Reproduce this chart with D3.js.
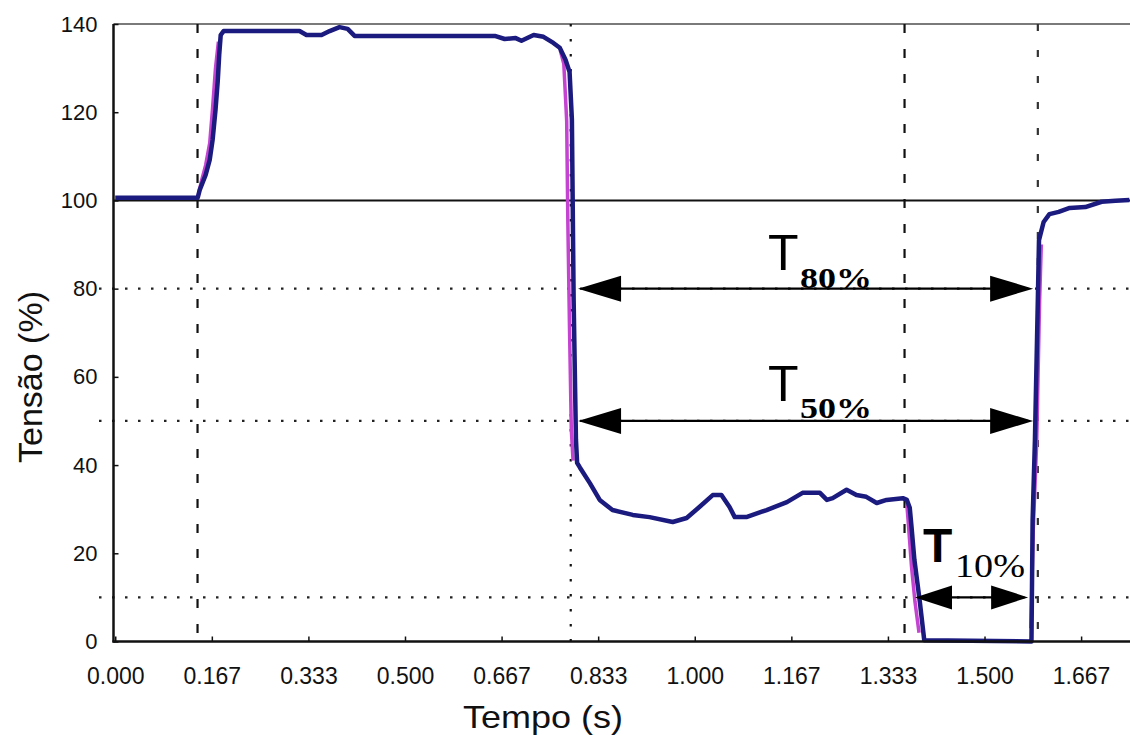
<!DOCTYPE html>
<html>
<head>
<meta charset="utf-8">
<script src="https://cdn.jsdelivr.net/npm/d3@7"></script>
<style>
  body { margin: 0; background: #fff; }
  svg { display: block; }
</style>
</head>
<body>
<svg id="chart" width="1130" height="743"></svg>
<script>
// Measured voltage during the sag (navy trace)
const timeS = [0, 0.1423, 0.1458, 0.156, 0.163, 0.168, 0.173, 0.177, 0.1794, 0.182, 0.187, 0.249, 0.318,
  0.330, 0.356, 0.370, 0.387, 0.401, 0.413, 0.491, 0.577, 0.655, 0.672, 0.691, 0.701, 0.722, 0.739,
  0.756, 0.767, 0.777, 0.784, 0.788, 0.791, 0.795, 0.797, 0.802, 0.819, 0.836, 0.858, 0.893, 0.922,
  0.962, 0.986, 1.008, 1.031, 1.046, 1.060, 1.069, 1.089, 1.124, 1.159, 1.186, 1.216, 1.228, 1.238,
  1.262, 1.279, 1.296, 1.314, 1.331, 1.359, 1.366, 1.371, 1.374, 1.379, 1.388, 1.396, 1.581, 1.583,
  1.587, 1.592, 1.594, 1.602, 1.612, 1.628, 1.647, 1.674, 1.702, 1.726, 1.75];
const tensaoPct = [100.6, 100.6, 102.4, 105.8, 109.2, 113.7, 120.5, 127.3, 133, 137.5, 138.4, 138.4, 138.4,
  137.5, 137.5, 138.4, 139.3, 138.9, 137.3, 137.3, 137.3, 137.3, 136.6, 136.8, 136.2, 137.5, 137.1,
  135.7, 134.6, 131.9, 129.1, 118.3, 77.4, 45.7, 40.5, 39.4, 35.9, 32.1, 29.8, 28.7, 28.2,
  27.1, 28.0, 30.5, 33.2, 33.2, 30.5, 28.2, 28.2, 29.8, 31.6, 33.7, 33.7, 32.1, 32.5,
  34.4, 33.2, 32.8, 31.4, 32.1, 32.5, 32.1, 30.3, 26.0, 18.5, 9.4, 0.3, 0, 27.5,
  45.7, 77.4, 91, 95.1, 96.9, 97.4, 98.3, 98.5, 99.7, 99.9, 100.1];

// Reference trace (magenta), only where it separates from the measured trace on the edges
const refTimeS = [0.143, 0.148, 0.156, 0.163, 0.168, 0.173, 0.178, null,
  0.768, 0.774, 0.779, 0.781, 0.784, 0.787, 0.790, null,
  1.366, 1.369, 1.374, 1.380, 1.387, null,
  1.580, 1.584, 1.590, 1.595, 1.598];
const refTensaoPct = [101, 104, 108, 113, 121, 130, 136, null,
  134, 131, 118, 95, 70, 48, 41, null,
  31, 26, 17, 9, 2, null,
  3, 25, 45, 77, 90];

// Axis ticks
const xTickValues = [0, 0.16667, 0.33333, 0.5, 0.66667, 0.83333, 1.0, 1.16667, 1.33333, 1.5, 1.66667];
const xTickLabels = ["0.000", "0.167", "0.333", "0.500", "0.667", "0.833", "1.000", "1.167", "1.333", "1.500", "1.667"];
const yTickValues = [0, 20, 40, 60, 80, 100, 120, 140];

// Reference level lines and event markers
const nominalLevel = 100;
const thresholdLevels = [80, 50, 10];
const markerTimes = [0.142, 0.786, 1.362, 1.592];

// Duration intervals below each threshold
const intervalLevels = [80, 50, 10];
const intervalStart = [0.7986, 0.7986, 1.380];
const intervalEnd = [1.5839, 1.5839, 1.5752];
const intervalSub = ["80%", "50%", "10%"];

const svg = d3.select("#chart");
const x = d3.scaleLinear().domain([-0.003, 1.75]).range([113.5, 1129.4]);
const y = d3.scaleLinear().domain([0, 140]).range([641.5, 24]);
const X0 = 113.5, X1 = 1130, Y0 = 641.5, Y1 = 24;

// top frame
svg.append("line").attr("x1", X0).attr("x2", X1).attr("y1", Y1).attr("y2", Y1)
  .attr("stroke", "#7a7a7a").attr("stroke-width", 2);

// threshold dotted lines
svg.selectAll("line.thr").data(thresholdLevels).join("line").attr("class", "thr")
  .attr("x1", 99).attr("x2", X1).attr("y1", d => y(d)).attr("y2", d => y(d))
  .attr("stroke", "#222").attr("stroke-width", 2.2).attr("stroke-dasharray", "2.5,10.5");

// nominal level
svg.append("line").attr("x1", X0).attr("x2", X1).attr("y1", y(nominalLevel)).attr("y2", y(nominalLevel))
  .attr("stroke", "#111").attr("stroke-width", 2);

// event markers
const markerDash = ["9,16", "2.5,12.5", "9,16", "7,19"];
svg.selectAll("line.mk").data(markerTimes).join("line").attr("class", "mk")
  .attr("x1", d => x(d)).attr("x2", d => x(d)).attr("y1", Y1).attr("y2", Y0)
  .attr("stroke", (d, i) => i === 3 ? "#333" : "#111").attr("stroke-width", 2.2)
  .attr("stroke-dasharray", (d, i) => markerDash[i]);

// traces
const line = d3.line().defined(d => d[0] !== null).x(d => x(d[0])).y(d => y(d[1]));
svg.append("path").datum(d3.zip(refTimeS, refTensaoPct)).attr("d", line)
  .attr("fill", "none").attr("stroke", "#c443d0").attr("stroke-width", 3.5).attr("stroke-linejoin", "round");
svg.append("path").datum(d3.zip(timeS, tensaoPct)).attr("d", line)
  .attr("fill", "none").attr("stroke", "#1b1a7e").attr("stroke-width", 4.5).attr("stroke-linejoin", "round");

// axes
const xAxis = d3.axisBottom(x).tickValues(xTickValues).tickFormat((d, i) => xTickLabels[i])
  .tickSizeInner(-5).tickSizeOuter(0).tickPadding(26);
const gx = svg.append("g").attr("transform", `translate(0,${Y0})`).call(xAxis);
gx.select(".domain").remove();
gx.selectAll(".tick line").attr("stroke", "#111").attr("stroke-width", 1.5);
gx.selectAll("text").attr("font-family", "Liberation Sans, Arial, sans-serif").attr("font-size", 23).attr("fill", "#111");

const yAxis = d3.axisLeft(y).tickValues(yTickValues).tickFormat(d3.format("d"))
  .tickSizeInner(-5).tickSizeOuter(0).tickPadding(16);
const gy = svg.append("g").attr("transform", `translate(${X0},0)`).call(yAxis);
gy.select(".domain").remove();
gy.selectAll(".tick line").attr("stroke", "#111").attr("stroke-width", 1.5);
gy.selectAll("text").attr("font-family", "Liberation Sans, Arial, sans-serif").attr("font-size", 22).attr("fill", "#111");

svg.append("line").attr("x1", X0).attr("x2", X0).attr("y1", Y1).attr("y2", Y0 + 1)
  .attr("stroke", "#111").attr("stroke-width", 2.5);
svg.append("line").attr("x1", X0 - 1).attr("x2", X1).attr("y1", Y0).attr("y2", Y0)
  .attr("stroke", "#111").attr("stroke-width", 2.5);

// axis titles
svg.append("text").attr("x", 543).attr("y", 728).attr("text-anchor", "middle")
  .attr("font-family", "Liberation Sans, Arial, sans-serif").attr("font-size", 32).attr("fill", "#111")
  .attr("textLength", 160).attr("lengthAdjust", "spacingAndGlyphs").text("Tempo (s)");
svg.append("text").attr("transform", "translate(42,463) rotate(-90)").attr("text-anchor", "start")
  .attr("font-family", "Liberation Sans, Arial, sans-serif").attr("font-size", 34).attr("fill", "#111")
  .text("Tensão (%)");

// interval arrows with labels
const labelLayout = [
  { dx: -37.5, tDy: -19, sDy: -1, tBold: false, tSize: 50, sSize: 29, sBold: true, sLen: 72, head: 43, half: 13 },
  { dx: -37.5, tDy: -20, sDy: -3, tBold: false, tSize: 50, sSize: 29, sBold: true, sLen: 72, head: 43, half: 13 },
  { dx: -48.5, tDy: -35, sDy: -20, tBold: true, tSize: 48, sSize: 34, sBold: false, sLen: 70, head: 37, half: 12 }
];
intervalLevels.forEach((lv, i) => {
  const L = labelLayout[i];
  const yy = y(lv), xa = x(intervalStart[i]), xb = x(intervalEnd[i]);
  const g = svg.append("g");
  g.append("line").attr("x1", xa + 5).attr("x2", xb - 5).attr("y1", yy).attr("y2", yy)
    .attr("stroke", "#000").attr("stroke-width", 2.2);
  g.append("path").attr("d", `M${xa},${yy}L${xa + L.head},${yy - L.half}L${xa + L.head},${yy + L.half}Z`).attr("fill", "#000");
  g.append("path").attr("d", `M${xb},${yy}L${xb - L.head},${yy - L.half}L${xb - L.head},${yy + L.half}Z`).attr("fill", "#000");
  const mid = (xa + xb) / 2;
  const tx = mid + L.dx;
  g.append("text").attr("x", tx).attr("y", yy + L.tDy)
    .attr("font-family", "Liberation Sans, Arial, sans-serif").attr("font-size", L.tSize)
    .attr("font-weight", L.tBold ? "bold" : "normal").attr("fill", "#000").text("T");
  g.append("text").attr("x", tx + 32).attr("y", yy + L.sDy)
    .attr("font-family", "Liberation Serif, Times New Roman, serif").attr("font-size", L.sSize)
    .attr("font-weight", L.sBold ? "bold" : "normal").attr("fill", "#000")
    .attr("textLength", L.sLen).attr("lengthAdjust", "spacingAndGlyphs").text(intervalSub[i]);
});
</script>
</body>
</html>
